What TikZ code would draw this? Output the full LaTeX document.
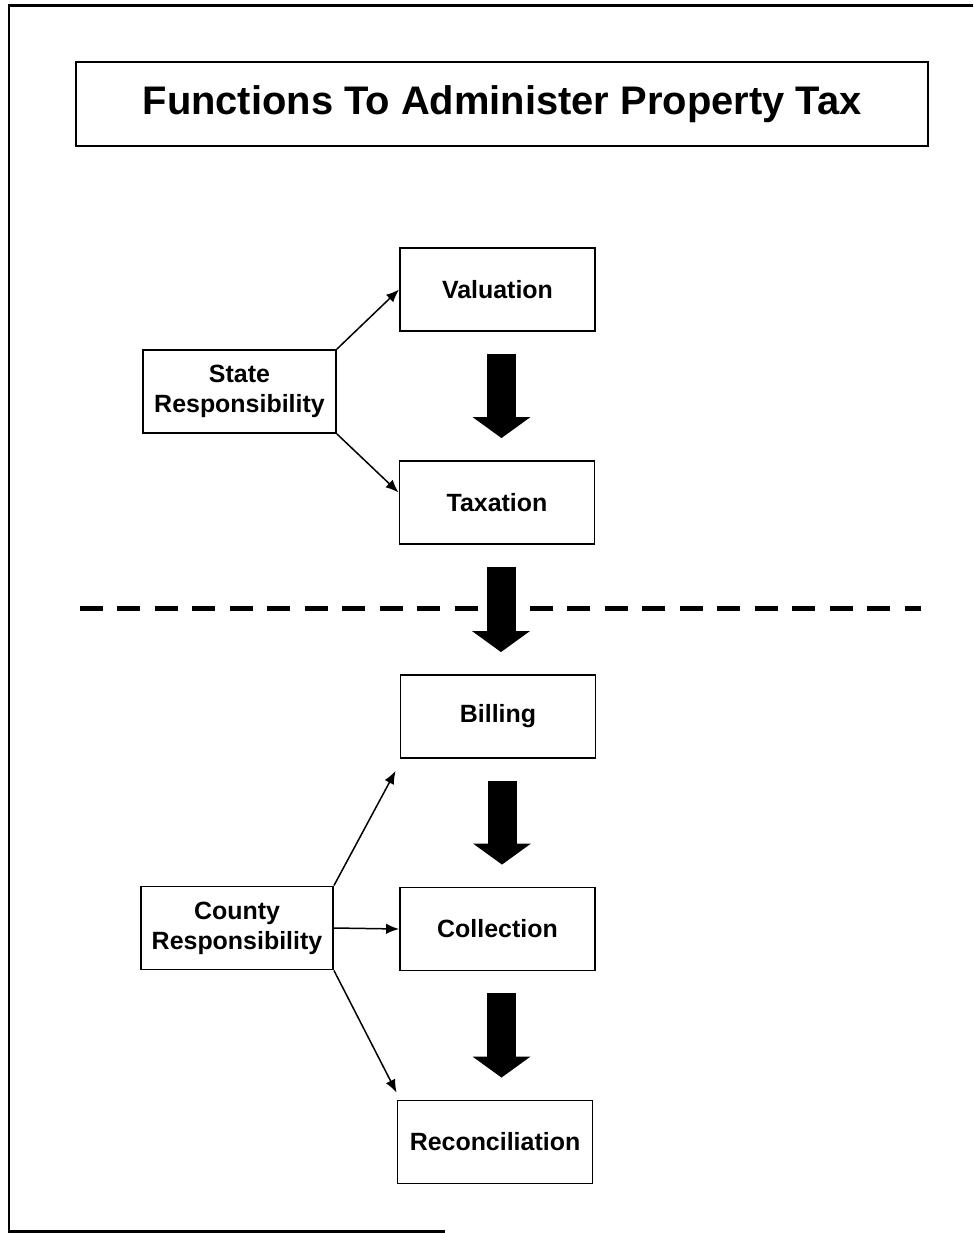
\documentclass[tikz,border=0pt]{standalone}
\usepackage{fontspec}
\setmainfont{Liberation Sans}
\usetikzlibrary{arrows.meta}
\tikzset{box/.style={draw, line width=1.1pt, minimum width=3.9cm, minimum height=1.66cm,
        inner sep=0pt, align=center, font=\bfseries\fontsize{14.2}{17}\selectfont}}
\tikzset{flow/.style={line width=0.58cm,
        -{Triangle[width=1.16cm,length=0.42cm,line width=0pt]},
        shorten <=0.44cm, shorten >=0.44cm, transform canvas={xshift=0.08cm}}}
\tikzset{link/.style={line width=0.85pt, -{Latex[length=0.26cm,width=0.21cm]}}}
\tikzset{sep/.style={line width=0.1cm, dash pattern=on 0.46cm off 0.29cm}}

\begin{document}
\begin{tikzpicture}[x=0.02cm,y=-0.02cm]
    \useasboundingbox (0,0) rectangle (973,1233);
    % page frame, open on the right
    \draw[line width=0.06cm] (973,6) -- (9,6) -- (9,1231) -- (445,1231);

    \node[box,minimum width=17.04cm,minimum height=1.68cm,
        font=\bfseries\fontsize{22.7}{27}\selectfont] (title) at (502,104)
        {Functions To Administer Property Tax};

    % the five functions
    \node[box] (val) at (497.5,289.5) {Valuation};
    \node[box] (tax) at (497,502.5) {Taxation};
    \node[box] (bill) at (498,716.5) {Billing};
    \node[box] (coll) at (497.5,929) {Collection};
    \node[box] (rec) at (495,1142) {Reconciliation};

    % who does what
    \node[box,minimum width=3.86cm] (state) at (239.5,391.5) {State\\Responsibility};
    \node[box,minimum width=3.84cm] (county) at (237,928) {County\\Responsibility};

    % state / county split
    \coordinate (sepL) at (80,608);
    \coordinate (sepR) at (921,608);
    \draw[sep] (sepL) -- (sepR);

    \draw[flow] (val.south) -- (val.south |- tax.north);
    \draw[flow] (tax.south) -- (tax.south |- bill.north);
    \draw[flow] (bill.south) -- (bill.south |- coll.north);
    \draw[flow] (coll.south) -- (coll.south |- rec.north);

    \draw[link] (state.north east) -- (val.west);
    \draw[link] (state.south east) -- ([yshift=0.2cm]tax.west);
    \draw[link] (county.north east) -- ([shift={(-0.08cm,-0.24cm)}]bill.south west);
    \draw[link] (county.east) -- (coll.west);
    \draw[link] (county.south east) -- ([yshift=0.14cm]rec.north west);
\end{tikzpicture}
\end{document}
